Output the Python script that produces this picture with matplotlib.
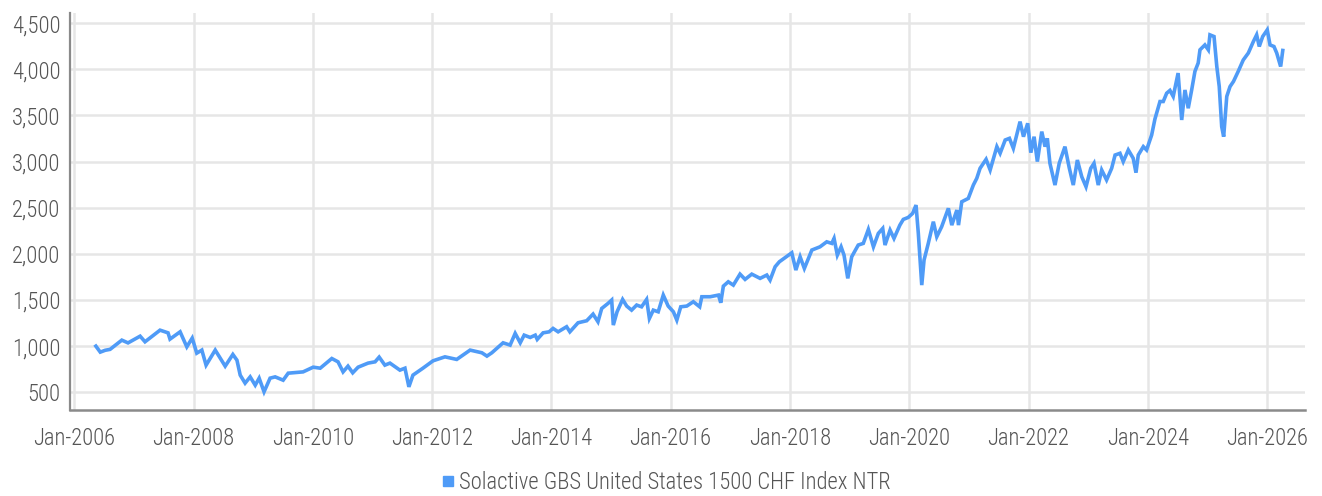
import matplotlib
matplotlib.use('Agg')
import matplotlib.pyplot as plt
import matplotlib.dates as mdates
from matplotlib import font_manager
from matplotlib.lines import Line2D
from matplotlib.ticker import FuncFormatter

import pandas as pd

# values
dates = [
    "2006-05-13", "2006-06-09", "2006-07-09", "2006-08-08", "2006-10-19", "2006-11-26",
    "2007-02-08", "2007-03-10", "2007-06-10", "2007-07-29", "2007-08-10", "2007-10-11",
    "2007-11-21", "2007-12-24", "2008-01-21", "2008-02-21", "2008-03-18", "2008-05-13",
    "2008-07-13", "2008-08-29", "2008-09-23", "2008-10-13", "2008-11-12", "2008-12-13",
    "2009-01-13", "2009-02-06", "2009-03-08", "2009-04-14", "2009-05-15", "2009-07-03",
    "2009-08-03", "2009-11-02", "2010-01-03", "2010-02-15", "2010-04-27", "2010-06-04",
    "2010-07-05", "2010-08-04", "2010-09-02", "2010-10-05", "2010-12-05", "2011-01-17",
    "2011-02-11", "2011-03-18", "2011-04-18", "2011-06-18", "2011-07-19", "2011-08-12",
    "2011-09-06", "2011-11-06", "2012-01-07", "2012-03-20", "2012-05-31", "2012-08-21",
    "2012-11-01", "2012-12-02", "2013-01-01", "2013-03-11", "2013-04-23", "2013-05-24",
    "2013-06-24", "2013-07-18", "2013-08-24", "2013-09-24", "2013-10-06", "2013-11-11",
    "2013-12-18", "2014-01-11", "2014-02-11", "2014-04-04", "2014-04-24", "2014-06-13",
    "2014-08-05", "2014-09-13", "2014-10-13", "2014-11-05", "2014-12-13", "2015-01-05",
    "2015-01-15", "2015-02-07", "2015-03-13", "2015-04-07", "2015-05-07", "2015-06-07",
    "2015-07-07", "2015-08-07", "2015-08-24", "2015-09-17", "2015-10-17", "2015-11-17",
    "2015-12-17", "2016-01-18", "2016-02-08", "2016-03-03", "2016-04-09", "2016-05-19",
    "2016-06-27", "2016-07-10", "2016-08-30", "2016-10-20", "2016-11-03", "2016-11-19",
    "2016-12-19", "2017-01-19", "2017-03-01", "2017-04-01", "2017-05-12", "2017-07-02",
    "2017-08-12", "2017-09-01", "2017-10-02", "2017-10-28", "2018-01-12", "2018-02-06",
    "2018-03-04", "2018-03-30", "2018-05-15", "2018-07-04", "2018-08-14", "2018-09-14",
    "2018-09-28", "2018-10-18", "2018-11-10", "2018-11-28", "2018-12-21", "2019-01-14",
    "2019-02-23", "2019-03-26", "2019-04-26", "2019-05-27", "2019-06-26", "2019-07-23",
    "2019-08-06", "2019-09-06", "2019-09-30", "2019-11-05", "2019-11-26", "2019-12-26",
    "2020-01-22", "2020-02-12", "2020-02-26", "2020-03-18", "2020-04-01", "2020-04-27",
    "2020-05-28", "2020-06-18", "2020-07-18", "2020-08-28", "2020-09-18", "2020-10-19",
    "2020-10-29", "2020-11-18", "2020-12-28", "2021-01-28", "2021-02-18", "2021-03-10",
    "2021-04-16", "2021-05-11", "2021-06-21", "2021-07-11", "2021-08-11", "2021-09-06",
    "2021-09-30", "2021-11-10", "2021-12-01", "2021-12-27", "2022-01-15", "2022-02-04",
    "2022-02-24", "2022-03-23", "2022-04-12", "2022-04-26", "2022-05-12", "2022-06-12",
    "2022-07-08", "2022-08-12", "2022-09-08", "2022-10-02", "2022-10-27", "2022-11-23",
    "2022-12-19", "2023-01-17", "2023-02-06", "2023-03-04", "2023-03-25", "2023-04-24",
    "2023-05-25", "2023-06-15", "2023-07-15", "2023-08-04", "2023-09-04", "2023-10-04",
    "2023-10-21", "2023-11-04", "2023-12-05", "2023-12-25", "2024-01-25", "2024-02-14",
    "2024-03-16", "2024-04-05", "2024-04-26", "2024-05-16", "2024-06-05", "2024-07-05",
    "2024-07-27", "2024-08-16", "2024-09-05", "2024-09-26", "2024-10-16", "2024-11-05",
    "2024-11-16", "2024-12-16", "2025-01-06", "2025-01-16", "2025-02-10", "2025-02-27",
    "2025-03-14", "2025-03-29", "2025-04-10", "2025-04-29", "2025-05-19", "2025-06-09",
    "2025-07-08", "2025-08-08", "2025-09-08", "2025-10-09", "2025-10-29", "2025-11-14",
    "2025-12-05", "2026-01-02", "2026-01-19", "2026-02-12", "2026-03-01", "2026-03-25",
    "2026-04-07",
]
values = [
    1000, 935, 955, 965, 1065, 1035,
    1108, 1047, 1173, 1144, 1076, 1155,
    992, 1087, 924, 957, 794, 957,
    783, 910, 848, 686, 599, 667,
    577, 653, 505, 653, 667, 631,
    707, 721, 772, 761, 866, 830,
    721, 783, 711, 772, 816, 830,
    881, 794, 816, 740, 761, 559,
    686, 761, 841, 884, 856, 957,
    928, 892, 928, 1036, 1011, 1138,
    1036, 1119, 1094, 1119, 1073, 1144,
    1155, 1192, 1155, 1210, 1155, 1253,
    1275, 1347, 1264, 1408, 1462, 1499,
    1228, 1372, 1506, 1434, 1390, 1445,
    1426, 1506, 1300, 1390, 1372, 1553,
    1434, 1372, 1282, 1426, 1434, 1481,
    1426, 1535, 1535, 1553, 1470, 1650,
    1697, 1661, 1780, 1723, 1780, 1734,
    1770, 1715, 1860, 1914, 2011, 1824,
    1968, 1842, 2041, 2076, 2130, 2113,
    2167, 1986, 2076, 1986, 1734, 1968,
    2095, 2113, 2264, 2076, 2221, 2275,
    2095, 2257, 2167, 2311, 2373, 2394,
    2438, 2528, 2221, 1661, 1932, 2113,
    2348, 2185, 2294, 2493, 2311, 2474,
    2311, 2564, 2600, 2745, 2818, 2926,
    3024, 2908, 3161, 3089, 3233, 3251,
    3143, 3432, 3269, 3414, 3096, 3269,
    2999, 3324, 3161, 3251, 2981, 2745,
    2981, 3161, 2926, 2745, 3016, 2835,
    2727, 2926, 2981, 2745, 2908, 2800,
    2926, 3070, 3089, 2999, 3125, 3035,
    2879, 3070, 3161, 3125, 3287, 3460,
    3650, 3650, 3740, 3770, 3705, 3958,
    3450, 3775, 3577, 3775, 3976, 4067,
    4210, 4263, 4210, 4372, 4354, 4029,
    3812, 3378, 3269, 3705, 3812, 3867,
    3976, 4100, 4175, 4300, 4372, 4246,
    4354, 4426, 4263, 4246, 4175, 4029,
    4203,
]
series_name = "Solactive GBS United States 1500 CHF Index NTR"
y_ticks = [500, 1000, 1500, 2000, 2500, 3000, 3500, 4000, 4500]
x_tick_years = list(range(2006, 2027, 2))

# pick a narrow face if one is installed
installed = {f.name for f in font_manager.fontManager.ttflist}
narrow = [n for n in ["Roboto Condensed", "Liberation Sans Narrow", "DejaVu Sans Condensed"]
          if n in installed]
if narrow:
    plt.rcParams['font.family'] = [narrow[0], 'DejaVu Sans']
    font_size = 16.3
else:
    plt.rcParams['font.family'] = ['DejaVu Sans']
    plt.rcParams['font.stretch'] = 'condensed'
    font_size = 15
plt.rcParams['font.weight'] = 'light'

df = pd.DataFrame({"date": pd.to_datetime(dates), "value": values})

line_color = "#4f9bf7"
text_color = "#555555"

fig = plt.figure(figsize=(13.22, 4.96), dpi=100)
ax = fig.add_axes([0.053, 0.173, 0.934, 0.801])

ax.plot(df["date"], df["value"], color=line_color, linewidth=2.6, solid_joinstyle="miter")

ax.set_ylim(306, 4610)
ax.set_xlim(pd.Timestamp("2005-12-06"), pd.Timestamp("2026-08-20"))
ax.set_yticks(y_ticks)
ax.yaxis.set_major_formatter(FuncFormatter(lambda v, p: f"{int(v):,}"))
ax.set_xticks([pd.Timestamp(f"{y}-01-01") for y in x_tick_years])
ax.xaxis.set_major_formatter(mdates.DateFormatter("%b-%Y"))

ax.grid(True, color="#e6e6e6", linewidth=1.8)
ax.set_axisbelow(True)
for s in ["top", "right"]:
    ax.spines[s].set_visible(False)
ax.spines["left"].set_color("#8a8a8a")
ax.spines["left"].set_linewidth(1.6)
ax.spines["bottom"].set_color("#8a8a8a")
ax.spines["bottom"].set_linewidth(1.8)
ax.tick_params(axis="both", length=0, labelsize=font_size, labelcolor=text_color)
ax.tick_params(axis="y", pad=7)
ax.tick_params(axis="x", pad=12)

handle = Line2D([], [], color=line_color, marker="s", linestyle="none", markersize=7)
fig.legend([handle], [series_name], loc="center", bbox_to_anchor=(0.503, 0.028),
           frameon=False, fontsize=font_size, labelcolor=text_color,
           handletextpad=0.1, handlelength=0.8)

fig.savefig("out.png", dpi=100)
plt.close(fig)
